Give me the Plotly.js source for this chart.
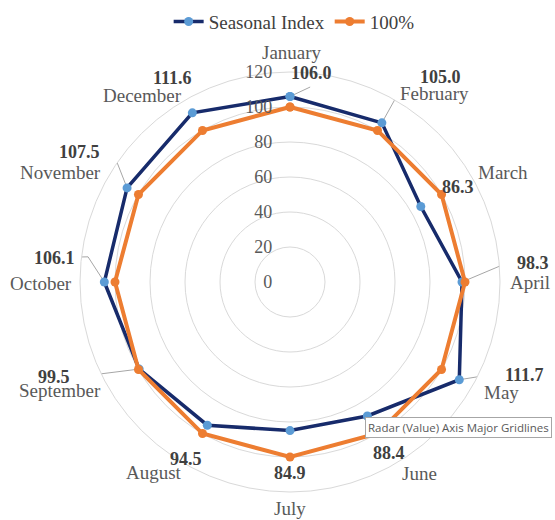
<!DOCTYPE html>
<html><head><meta charset="utf-8">
<script src="https://cdn.plot.ly/plotly-3.0.1.min.js"></script>
<style>html,body{margin:0;padding:0;background:#fff}#chart{width:555px;height:520px}</style>
</head><body><div id="chart"></div>
<script>
const months = ['January','February','March','April','May','June','July','August','September','October','November','December'];
const seasonalIndex = [106.0,105.0,86.3,98.3,111.7,88.4,84.9,94.5,99.5,106.1,107.5,111.6];
const baseline = [100,100,100,100,100,100,100,100,100,100,100,100];
const radialTicks = [0,20,40,60,80,100,120];
const seriesNames = ['Seasonal Index','100%'];

// layout only: category label centres, in pixels from the top-left corner
const catLabelXY = [[292,53],[434,93],[503,173],[530,282],[501,392],[419,473],[290,508],[154,472],[60,390],[41,283],[60,173],[142,95]];
// layout only: data label centres, in pixels from the top-left corner
const valLabelXY = [[311,73],[440,77],[458,187],[533,263],[524,375],[389,453],[290,473],[186,459],[54,377],[54,258],[79,152],[172,78]];
// layout only: leader-line bends from label toward its point, as [r, angle]
const leaderBends = {0:[[112,5.9]],1:[[136.7,31.5],[134.4,29.8]],3:[[129,85.2],[124.5,85.0]],4:[[131.8,113.2]],8:[[133.3,246.0]],9:[[120.8,276.8],[116.3,277.1]],10:[[129.9,305.5],[126.6,306.6]]};

const W = 555, H = 520;
const step = 360 / months.length;
const theta = months.map((m,i)=>i*step);
const close = a => a.concat([a[0]]);
const serif = 'Liberation Serif, Times New Roman, serif';
const FS = '\u2007';
const maxLen = Math.max(...radialTicks.map(t=>String(t).length));
const radialText = radialTicks.map(t=>FS.repeat(maxLen-String(t).length)+t);

const traces = [];
Object.keys(leaderBends).forEach(k=>{
  const i = +k, pts = leaderBends[k];
  traces.push({type:'scatterpolar', mode:'lines', showlegend:false, hoverinfo:'skip', cliponaxis:false,
    r: pts.map(p=>p[0]).concat([seasonalIndex[i]]),
    theta: pts.map(p=>p[1]).concat([theta[i]]),
    line:{color:'#A6A6A6', width:1}});
});
traces.push({type:'scatterpolar', mode:'lines+markers', name:seriesNames[0],
  r: close(seasonalIndex), theta: close(theta),
  line:{color:'#172B6B', width:3.5}, marker:{color:'#5B9BD5', size:9}});
traces.push({type:'scatterpolar', mode:'lines+markers', name:seriesNames[1],
  r: close(baseline), theta: close(theta),
  line:{color:'#ED7D31', width:4}, marker:{color:'#ED7D31', size:9}});

const annotations = [];
months.forEach((m,i)=>{
  annotations.push({xref:'paper', yref:'paper', x:catLabelXY[i][0]/W, y:1-catLabelXY[i][1]/H,
    xanchor:'center', yanchor:'middle', showarrow:false, text:m,
    font:{family:serif, size:19, color:'#595959'}});
});
seasonalIndex.forEach((v,i)=>{
  annotations.push({xref:'paper', yref:'paper', x:valLabelXY[i][0]/W, y:1-valLabelXY[i][1]/H,
    xanchor:'center', yanchor:'middle', showarrow:false, text:'<b>'+v.toFixed(1)+'</b>',
    font:{family:serif, size:18, color:'#404040'}});
});
annotations.push({xref:'paper', yref:'paper', x:458/W, y:1-427/H, xanchor:'center', yanchor:'middle', showarrow:false,
    text:'Radar (Value) Axis Major Gridlines', font:{family:'Open Sans, sans-serif', size:11.5, color:'#595959'},
    bgcolor:'#fff', bordercolor:'#A6A6A6', borderwidth:1, borderpad:2});

const layout = {
  width:W, height:H,
  margin:{l:0,r:0,t:0,b:0},
  paper_bgcolor:'#fff',
  showlegend:true,
  legend:{orientation:'h', x:0.53, xanchor:'center', y:0.995, yanchor:'top',
    font:{family:serif, size:19, color:'#404040'}, itemwidth:30},
  polar:{
    domain:{x:[80/W, 500/W], y:[28/H, 448/H]},
    gridshape:'linear',
    bgcolor:'rgba(0,0,0,0)',
    radialaxis:{range:[0,120], tickmode:'array', tickvals:radialTicks, ticktext:radialText,
      angle:90, tickangle:90, side:'counterclockwise',
      showline:false, ticks:'outside', ticklen:11, tickcolor:'rgba(0,0,0,0)',
      gridcolor:'#D9D9D9', gridwidth:1,
      tickfont:{family:serif, size:18, color:'#595959'}},
    angularaxis:{type:'linear', rotation:90, direction:'clockwise', thetaunit:'degrees',
      tickvals:theta, showticklabels:false, showgrid:false, ticks:'',
      showline:true, linecolor:'#D9D9D9', linewidth:1}
  },
  annotations: annotations
};
Plotly.newPlot('chart', traces, layout, {displayModeBar:false, staticPlot:true});
</script></body></html>
